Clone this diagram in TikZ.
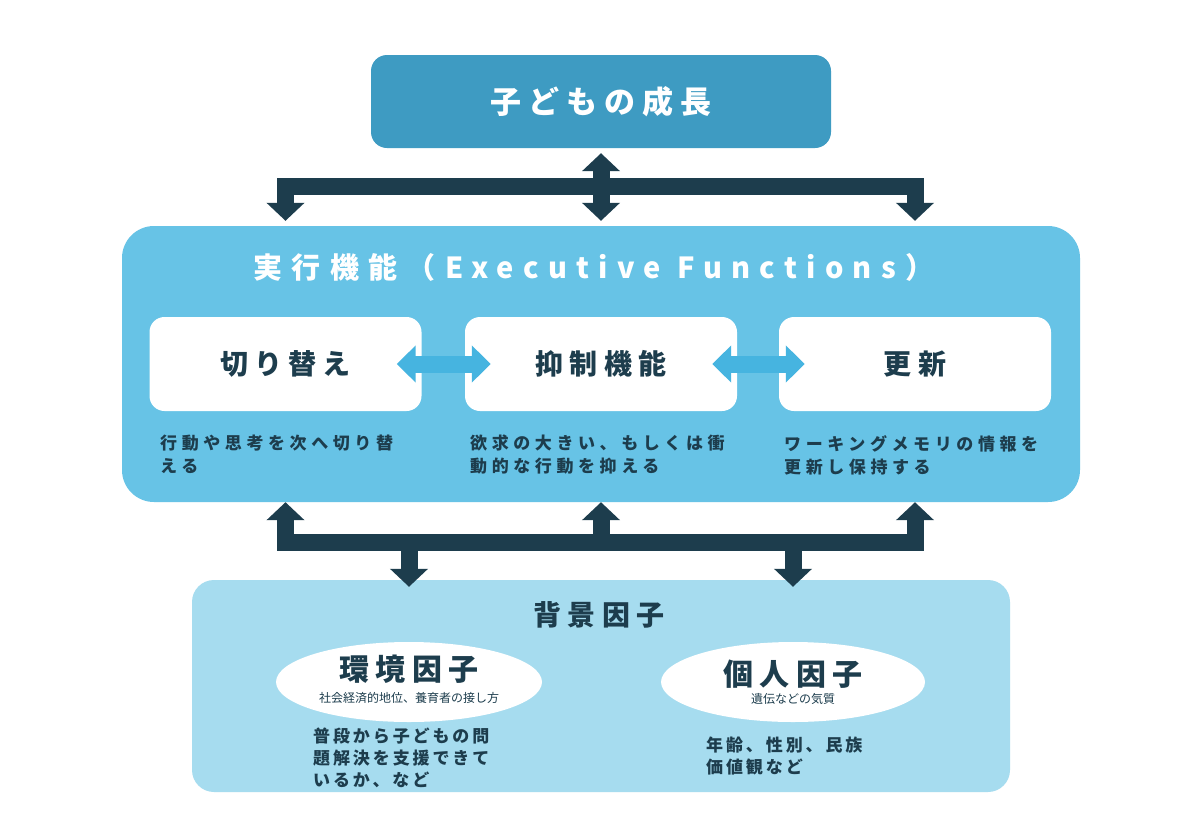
\documentclass[tikz,border=0pt]{standalone}
\usepackage{fontspec}
\setmainfont{Noto Sans CJK JP}
\newfontfamily\widejp{Noto Sans CJK JP}[LetterSpace=22]
\newfontfamily\titlejp{Noto Sans CJK JP}[LetterSpace=32]
\newfontfamily\descjp{Noto Sans CJK JP}[LetterSpace=27]
\newfontfamily\lowjp{Noto Sans CJK JP}[LetterSpace=17]
\usetikzlibrary{arrows.meta,shapes.geometric}

\definecolor{topblue}{HTML}{3E9BC2}
\definecolor{efblue}{HTML}{67C3E6}
\definecolor{bgblue}{HTML}{A6DCEF}
\definecolor{arrblue}{HTML}{46B4E0}
\definecolor{darkink}{HTML}{1D3D4D}

\tikzset{
  panel/.style={rounded corners=#1, inner sep=0pt},
  whitebox/.style={panel=15pt, fill=white, minimum width=272pt, minimum height=94pt,
    text=darkink, font=\widejp\bfseries\fontsize{28}{32}\selectfont},
  note/.style={anchor=north west, inner sep=0pt, align=left, text=darkink},
  darr/.style={draw=darkink, line width=17pt, line join=miter,
    arrows={-Triangle[width=37pt,length=18pt]}},
  larr/.style={draw=arrblue, line width=17pt,
    arrows={Triangle[width=36pt,length=19pt]-Triangle[width=36pt,length=19pt]}},
  oval/.style={ellipse, fill=white, inner sep=0pt},
}

\begin{document}
\begin{tikzpicture}[x=1pt,y=-1pt]
\useasboundingbox (0,0) rectangle (1200,833);
\fill[white] (0,0) rectangle (1200,833);

% top: growth
\path (601,101.5) node[panel=16pt, fill=topblue, minimum width=460pt, minimum height=93pt,
        text=white, font=\widejp\bfseries\fontsize{31}{34}\selectfont] (growth) {子どもの成長};

% middle: executive functions
\path (601,364) node[panel=32pt, fill=efblue, minimum width=958pt, minimum height=276pt] (ef) {}
      (594,267) node[text=white, font=\titlejp\bfseries\fontsize{29}{32}\selectfont] (eftitle)
        {実行機能（Executive Functions）}
      (285.5,364) node[whitebox] (shift) {切り替え}
      (601,364) node[whitebox] (inhibit) {抑制機能}
      (915,364) node[whitebox] (update) {更新};

\path (160,435) node[note, font=\descjp\bfseries\fontsize{17}{23}\selectfont] (shiftnote)
        {行動や思考を次へ切り替\\える}
      (470,435) node[note, font=\descjp\bfseries\fontsize{17}{23}\selectfont] (inhibitnote)
        {欲求の大きい、もしくは衝\\動的な行動を抑える}
      (784,435) node[note, font=\descjp\bfseries\fontsize{17}{23}\selectfont] (updatenote)
        {ワーキングメモリの情報を\\更新し保持する};

\draw[larr] ([xshift=-25pt]shift.east) -- ([xshift=26pt]inhibit.west);
\draw[larr] ([xshift=-25pt]inhibit.east) -- ([xshift=26pt]update.west);

% bottom: background factors
\path (601,686) node[panel=22pt, fill=bgblue, minimum width=818pt, minimum height=212pt] (bg) {}
      (599,615) node[text=darkink, font=\widejp\bfseries\fontsize{28}{32}\selectfont] (bgtitle) {背景因子}
      (409,682) node[oval, minimum width=266pt, minimum height=80pt] (env) {}
      (793,682) node[oval, minimum width=264pt, minimum height=80pt] (indiv) {}
      (409,669) node[text=darkink, font=\widejp\bfseries\fontsize{30}{34}\selectfont] (envname) {環境因子}
      (409,698) node[text=darkink, font=\fontsize{12}{14}\selectfont] (envsub) {社会経済的地位、養育者の接し方}
      (793,674) node[text=darkink, font=\widejp\bfseries\fontsize{30}{34}\selectfont] (indivname) {個人因子}
      (793,699) node[text=darkink, font=\fontsize{12}{14}\selectfont] (indivsub) {遺伝などの気質}
      (313,728) node[note, font=\lowjp\bfseries\fontsize{17}{22}\selectfont] (envnote)
        {普段から子どもの問\\題解決を支援できて\\いるか、など}
      (706,737) node[note, font=\lowjp\bfseries\fontsize{17}{22}\selectfont] (indivnote)
        {年齢、性別、民族\\価値観など};

% upper bracket
\coordinate (topbar) at (601,186.5);
\draw[darr, arrows=-] ([xshift=-8.5pt]shift |- topbar) -- ([xshift=8.5pt]update |- topbar);
\draw[darr, shorten >=5pt] (shift |- topbar) -- (shift |- ef.north);
\draw[darr, shorten >=5pt] (update |- topbar) -- (update |- ef.north);
\draw[darr, arrows={Triangle[width=37pt,length=18pt]-Triangle[width=37pt,length=18pt]},
      shorten <=5pt, shorten >=5pt] (growth.south) -- (ef.north);

% lower bracket
\coordinate (lowbar) at (601,542.5);
\draw[darr, arrows=-] ([xshift=-8.5pt]shift |- lowbar) -- ([xshift=8.5pt]update |- lowbar);
\draw[darr] (shift |- lowbar) -- (shift |- ef.south);
\draw[darr] (inhibit |- lowbar) -- (inhibit |- ef.south);
\draw[darr] (update |- lowbar) -- (update |- ef.south);
\draw[darr, shorten >=-7pt] (env |- lowbar) -- (env |- bg.north);
\draw[darr, shorten >=-7pt] (indiv |- lowbar) -- (indiv |- bg.north);
\end{tikzpicture}
\end{document}
